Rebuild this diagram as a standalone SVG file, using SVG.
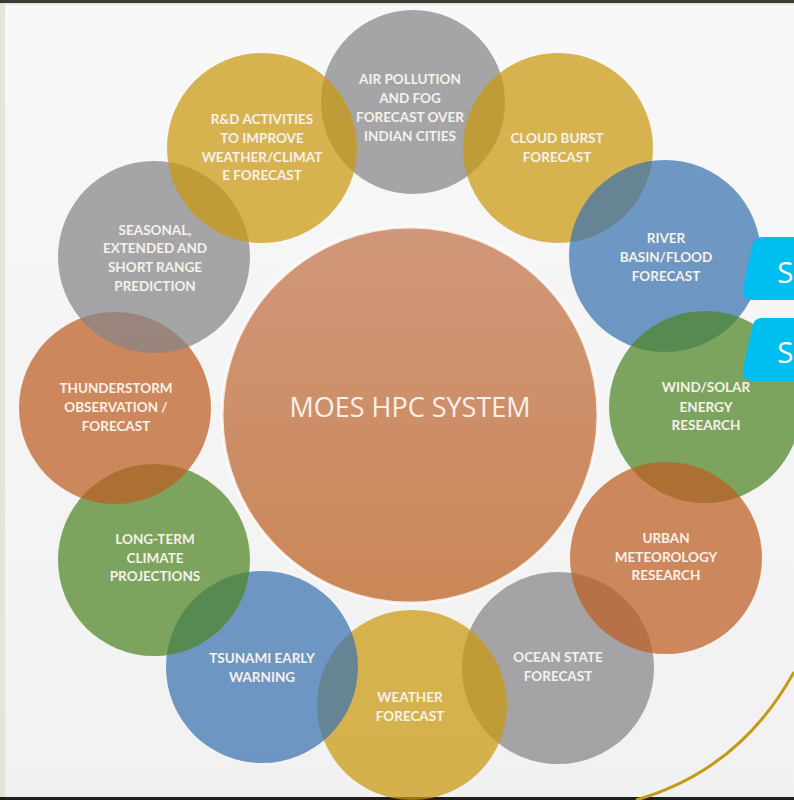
<svg xmlns="http://www.w3.org/2000/svg" width="794" height="800" viewBox="0 0 794 800">
  <defs>
    <linearGradient id="bg" x1="0" y1="0" x2="0" y2="1">
      <stop offset="0" stop-color="#f8f8f8"/>
      <stop offset="1" stop-color="#f1f1f1"/>
    </linearGradient>
    <linearGradient id="hub" x1="0" y1="0" x2="0" y2="1">
      <stop offset="0" stop-color="#d1977a"/>
      <stop offset="1" stop-color="#ca8757"/>
    </linearGradient>
    <style>
      .sat { opacity: 0.72; }
      .gold { fill: #ca990f; }
      .gray { fill: #858588; }
      .blue { fill: #3a71ae; }
      .green { fill: #4f8524; }
      .orange { fill: #be5d21; }
      .lbl { font-family: Lato, "Open Sans", "Liberation Sans", sans-serif; font-size: 13.5px; font-weight: 700; fill: #f6f1ea; text-anchor: middle; }
      .hubtxt { font-family: "Open Sans", "Liberation Sans", sans-serif; font-size: 27px; fill: #f7f1ea; text-anchor: middle; }
      .tab { fill: #00bff0; }
      .tabtxt { font-family: "Open Sans", "Liberation Sans", sans-serif; font-size: 30px; fill: #ffffff; }
    </style>
  </defs>

  <!-- page -->
  <rect x="0" y="0" width="794" height="800" fill="url(#bg)"/>
  <rect x="0" y="0" width="5" height="800" fill="#e6e3dc"/>
  <rect x="0" y="0" width="794" height="3" fill="#3a3a38"/>
  <rect x="0" y="3" width="794" height="1.5" fill="#e3dfd5"/>
  <rect x="0" y="797" width="794" height="3" fill="#1e1e1e"/>

  <!-- central hub -->
  <g id="hub-node">
    <circle cx="410" cy="415" r="188" fill="url(#hub)" stroke="#ffffff" stroke-opacity="0.8" stroke-width="3"/>
    <text class="hubtxt" x="410" y="417">MOES HPC SYSTEM</text>
  </g>

  <!-- satellite circles, stacked bottom to top -->
  <g id="n-ocean">
    <circle class="sat gray" cx="558" cy="668" r="96"/>
  </g>
  <g id="n-air">
    <circle class="sat gray" cx="413" cy="102" r="92"/>
  </g>
  <g id="n-cloud">
    <circle class="sat gold" cx="558" cy="148" r="95"/>
  </g>
  <g id="n-river">
    <circle class="sat blue" cx="665" cy="256" r="96"/>
  </g>
  <g id="n-wind">
    <circle class="sat green" cx="705" cy="407" r="96"/>
  </g>
  <g id="n-urban">
    <circle class="sat orange" cx="666" cy="558" r="96"/>
  </g>
  <g id="n-weather">
    <circle class="sat gold" cx="412" cy="705" r="95"/>
  </g>
  <g id="n-tsunami">
    <circle class="sat blue" cx="262" cy="667" r="96"/>
  </g>
  <g id="n-longterm">
    <circle class="sat green" cx="154" cy="560" r="96"/>
  </g>
  <g id="n-thunderstorm">
    <circle class="sat orange" cx="115" cy="408" r="96"/>
  </g>
  <g id="n-seasonal">
    <circle class="sat gray" cx="154" cy="257" r="96"/>
  </g>
  <g id="n-rnd">
    <circle class="sat gold" cx="262" cy="148" r="95"/>
  </g>

  <!-- labels -->
  <g id="labels">
    <text class="lbl" x="410" y="84">AIR POLLUTION</text>
    <text class="lbl" x="410" y="103">AND FOG</text>
    <text class="lbl" x="410" y="122">FORECAST OVER</text>
    <text class="lbl" x="410" y="141">INDIAN CITIES</text>

    <text class="lbl" x="262" y="124">R&amp;D ACTIVITIES</text>
    <text class="lbl" x="262" y="143">TO IMPROVE</text>
    <text class="lbl" x="262" y="162">WEATHER/CLIMAT</text>
    <text class="lbl" x="262" y="180">E FORECAST</text>

    <text class="lbl" x="557" y="143">CLOUD BURST</text>
    <text class="lbl" x="557" y="162">FORECAST</text>

    <text class="lbl" x="666" y="243">RIVER</text>
    <text class="lbl" x="666" y="262">BASIN/FLOOD</text>
    <text class="lbl" x="666" y="281">FORECAST</text>

    <text class="lbl" x="706" y="392">WIND/SOLAR</text>
    <text class="lbl" x="706" y="412">ENERGY</text>
    <text class="lbl" x="706" y="430">RESEARCH</text>

    <text class="lbl" x="666" y="543">URBAN</text>
    <text class="lbl" x="666" y="562">METEOROLOGY</text>
    <text class="lbl" x="666" y="580">RESEARCH</text>

    <text class="lbl" x="558" y="662">OCEAN STATE</text>
    <text class="lbl" x="558" y="681">FORECAST</text>

    <text class="lbl" x="410" y="702">WEATHER</text>
    <text class="lbl" x="410" y="721">FORECAST</text>

    <text class="lbl" x="262" y="663">TSUNAMI EARLY</text>
    <text class="lbl" x="262" y="682">WARNING</text>

    <text class="lbl" x="155" y="544">LONG-TERM</text>
    <text class="lbl" x="155" y="563">CLIMATE</text>
    <text class="lbl" x="155" y="581">PROJECTIONS</text>

    <text class="lbl" x="116" y="393">THUNDERSTORM</text>
    <text class="lbl" x="116" y="412">OBSERVATION /</text>
    <text class="lbl" x="116" y="431">FORECAST</text>

    <text class="lbl" x="155" y="235">SEASONAL,</text>
    <text class="lbl" x="155" y="253">EXTENDED AND</text>
    <text class="lbl" x="155" y="272">SHORT RANGE</text>
    <text class="lbl" x="155" y="291">PREDICTION</text>
  </g>

  <!-- decorative arc -->
  <path d="M 794 672 Q 740 770 636 800" fill="none" stroke="#c29b12" stroke-width="3"/>

  <!-- side tabs -->
  <g id="tabs">
    <path class="tab" d="M 794 237 L 762 237 Q 754 237 752 246 L 743 288 Q 741 300 753 300 L 794 300 Z"/>
    <text class="tabtxt" x="777" y="283">S</text>
    <path class="tab" d="M 794 318 L 762 318 Q 754 318 752 327 L 743 369 Q 741 381 753 381 L 794 381 Z"/>
    <text class="tabtxt" x="777" y="363">S</text>
  </g>
</svg>
